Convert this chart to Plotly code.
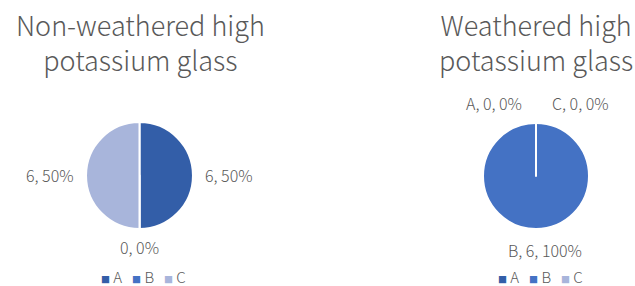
import plotly.graph_objects as go

categories = ["A", "B", "C"]
non_weathered = [6, 0, 6]
weathered = [0, 6, 0]
titles = ["Non-weathered high<br>potassium glass", "Weathered high<br>potassium glass"]
colors = ["#335EA8", "#4472C4", "#A8B5DB"]

W, H = 635, 286
FONT = "Noto Sans CJK SC"
GRAY = "#595959"

def px(x):
    return x / W

def py(y):
    return 1 - y / H

fig = go.Figure()

domains = [
    dict(x=[px(86), px(193)], y=[py(229), py(122)]),
    dict(x=[px(483), px(589)], y=[py(229), py(123)]),
]

for vals, dom in zip([non_weathered, weathered], domains):
    fig.add_trace(go.Pie(
        labels=categories, values=vals, domain=dom,
        sort=False, direction="clockwise", rotation=0,
        marker=dict(colors=colors, line=dict(color="white", width=2)),
        textinfo="none", hoverinfo="label+value+percent",
        showlegend=False,
    ))

def pct(v, total):
    return f"{round(100 * v / total)}%"

ann = []
# titles
for t, cx in zip(titles, [140, 536]):
    ann.append(dict(text=t, x=px(cx), y=py(42), xref="paper", yref="paper",
                    showarrow=False, font=dict(family=FONT, size=27, color=GRAY, weight=300),
                    xanchor="center", yanchor="middle", align="center"))

LBL = dict(family=FONT, size=16, color=GRAY, weight=300)

# left pie labels (value, percent)
tot_l = sum(non_weathered)
left_pos = {"A": (229, 175), "B": (139, 247), "C": (50, 175)}
for c, v in zip(categories, non_weathered):
    x, y = left_pos[c]
    ann.append(dict(text=f"{v}, {pct(v, tot_l)}", x=px(x), y=py(y), xref="paper", yref="paper",
                    showarrow=False, font=LBL, xanchor="center", yanchor="middle"))

# right pie labels (category, value, percent)
tot_r = sum(weathered)
right_pos = {"A": (494, 103), "B": (545, 250), "C": (580, 103)}
for c, v in zip(categories, weathered):
    x, y = right_pos[c]
    ann.append(dict(text=f"{c}, {v}, {pct(v, tot_r)}", x=px(x), y=py(y), xref="paper", yref="paper",
                    showarrow=False, font=LBL, xanchor="center", yanchor="middle"))

# legends
leg = "   ".join(
    f"<span style='color:{col};font-size:9px'>■</span> {c}" for c, col in zip(categories, colors)
)
for cx in [143, 540]:
    ann.append(dict(text=leg, x=px(cx), y=py(276.5), xref="paper", yref="paper",
                    showarrow=False, borderpad=0,
                    font=dict(family=FONT, size=15, color=GRAY, weight=300),
                    xanchor="center", yanchor="middle"))

fig.update_layout(
    width=W, height=H, margin=dict(l=0, r=0, t=0, b=0),
    paper_bgcolor="white", plot_bgcolor="white",
    annotations=ann,
)

fig.write_html("out.html", config={"displayModeBar": False},
               post_script="document.body.style.margin='0';document.body.style.overflow='hidden';")
